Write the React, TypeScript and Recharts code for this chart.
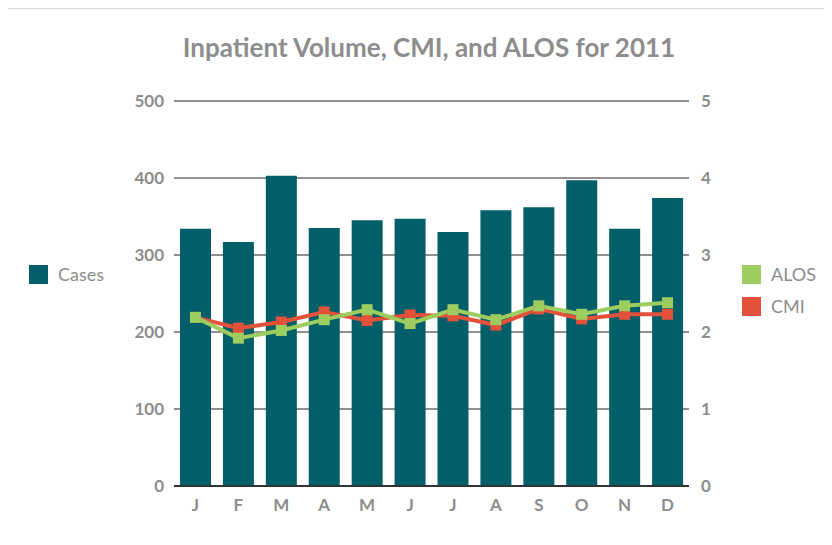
import React from "react";
import { ComposedChart, Bar, Line, XAxis, YAxis, CartesianGrid } from "recharts";

const months = ["J", "F", "M", "A", "M", "J", "J", "A", "S", "O", "N", "D"];
const cases = [334, 317, 403, 335, 345, 347, 330, 358, 362, 397, 334, 374];
const alos = [2.19, 1.92, 2.02, 2.16, 2.29, 2.11, 2.29, 2.16, 2.34, 2.23, 2.34, 2.38];
const cmi = [2.19, 2.05, 2.13, 2.26, 2.15, 2.22, 2.21, 2.09, 2.3, 2.17, 2.23, 2.23];
const leftTicks = [0, 100, 200, 300, 400, 500];
const rightTicks = [0, 1, 2, 3, 4, 5];

const TEAL = "#025f6a";
const GREEN = "#9dcd5f";
const RED = "#e4513a";
const GRAY = "#8d8d8d";
const FONT = "Lato, 'Open Sans', sans-serif";

const data = months.map((m, i) => ({ key: i, month: m, cases: cases[i], alos: alos[i], cmi: cmi[i] }));

const squareDot = (color: string) => (props: any) => {
  const { cx, cy, index } = props;
  if (cx == null || cy == null) return <g key={index} />;
  return <rect key={index} x={cx - 5.5} y={cy - 5.5} width={11} height={11} fill={color} />;
};

const tickStyle = { fontSize: 17, fontWeight: 700, fill: GRAY, fontFamily: FONT };

function LegendItem({ color, label, left, top }: { color: string; label: string; left: number; top: number }) {
  return (
    <div style={{ position: "absolute", left, top, display: "flex", alignItems: "center", fontFamily: FONT, fontSize: 18, color: GRAY }}>
      <span style={{ width: 19, height: 19, background: color, display: "inline-block", marginRight: 10 }} />
      {label}
    </div>
  );
}

export default function App() {
  return (
    <div style={{ position: "relative", width: 820, height: 545, border: "1px solid #d9d9d9", marginLeft: -1, background: "#fff" }}>
      <div
        style={{
          position: "absolute",
          top: 22,
          left: 0,
          width: 842,
          textAlign: "center",
          fontFamily: FONT,
          fontSize: 26,
          fontWeight: 700,
          color: GRAY,
        }}
      >
        Inpatient Volume, CMI, and ALOS for 2011
      </div>
      <LegendItem color={TEAL} label="Cases" left={21} top={254} />
      <LegendItem color={GREEN} label="ALOS" left={734} top={254} />
      <LegendItem color={RED} label="CMI" left={734} top={286} />
      <ComposedChart width={820} height={537} data={data} margin={{ top: 92, right: 79, bottom: 30, left: 106 }}>
        <CartesianGrid yAxisId="left" horizontal vertical={false} stroke="#6a6a6a" strokeWidth={1.5} />
        <XAxis
          dataKey="key"
          tickFormatter={(v: number) => months[v]}
          tick={tickStyle}
          tickLine={false}
          tickSize={0}
          tickMargin={13}
          axisLine={{ stroke: "#333", strokeWidth: 2 }}
          height={30}
          interval={0}
        />
        <YAxis
          yAxisId="left"
          domain={[0, 500]}
          ticks={leftTicks}
          tick={tickStyle}
          tickLine={false}
          tickSize={0}
          tickMargin={10}
          axisLine={false}
          width={60}
        />
        <YAxis
          yAxisId="right"
          orientation="right"
          domain={[0, 5]}
          ticks={rightTicks}
          tick={{ ...tickStyle, textAnchor: "start" }}
          tickLine={false}
          tickSize={0}
          tickMargin={12}
          axisLine={false}
          width={60}
        />
        <Bar yAxisId="left" dataKey="cases" fill={TEAL} barSize={31} isAnimationActive={false} />
        <Line yAxisId="right" dataKey="cmi" stroke={RED} strokeWidth={4} dot={squareDot(RED)} activeDot={false} isAnimationActive={false} type="linear" />
        <Line yAxisId="right" dataKey="alos" stroke={GREEN} strokeWidth={4} dot={squareDot(GREEN)} activeDot={false} isAnimationActive={false} type="linear" />
      </ComposedChart>
    </div>
  );
}
